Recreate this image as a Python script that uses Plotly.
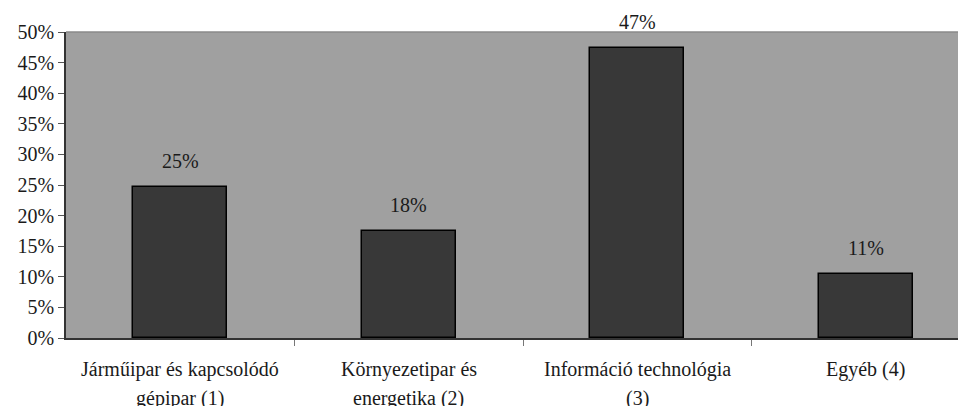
import plotly.graph_objects as go

categories = ["Járműipar és kapcsolódó<br>gépipar (1)",
              "Környezetipar és<br>energetika (2)",
              "Információ technológia<br>(3)",
              "Egyéb (4)"]
values = [24.6, 17.5, 47.4, 10.5]
value_labels = ["25%", "18%", "47%", "11%"]
ytick_vals = [0, 5, 10, 15, 20, 25, 30, 35, 40, 45, 50]
ytick_text = [f"{v}%" for v in ytick_vals]

FONT = "Liberation Serif, Times New Roman, serif"
TXT = "#1a1a1a"
FS = 20

fig = go.Figure()
fig.add_trace(go.Bar(
    x=list(range(len(categories))), y=values, width=0.41,
    marker=dict(color="#383838", line=dict(color="#000000", width=1.5)),
    hoverinfo="skip",
))

annotations = []
for i, (v, t) in enumerate(zip(values, value_labels)):
    annotations.append(dict(x=i, y=v, xref="x", yref="y", text=t, showarrow=False,
                            yanchor="middle", yshift=26,
                            font=dict(family=FONT, size=FS, color=TXT)))
for i, c in enumerate(categories):
    for j, line in enumerate(c.split("<br>")):
        annotations.append(dict(x=i, y=0, xref="x", yref="paper", text=line, showarrow=False,
                                yanchor="middle", yshift=-31 - 29 * j,
                                font=dict(family=FONT, size=FS, color=TXT)))

fig.update_layout(
    width=980, height=406,
    margin=dict(l=58, r=0, t=24, b=76),
    paper_bgcolor="white", plot_bgcolor="#a0a0a0",
    showlegend=False, bargap=0,
    annotations=annotations,
    shapes=[dict(type="line", xref="paper", yref="paper", x0=0, x1=1, y0=1, y1=1,
                 line=dict(color="#8a8a8a", width=1.5))],
    xaxis=dict(range=[-0.5, 3.535], tickmode="array",
               tickvals=[0.5, 1.5, 2.5], ticktext=["", "", ""],
               ticks="outside", ticklen=6, tickcolor="#777777",
               showgrid=False, zeroline=False, showline=True,
               linecolor="#333333", linewidth=1.5, fixedrange=True),
    yaxis=dict(range=[0, 50], tickmode="array", tickvals=ytick_vals, ticktext=ytick_text,
               ticks="outside", ticklen=6, tickcolor="#555555",
               tickfont=dict(family=FONT, size=FS, color=TXT),
               showgrid=False, zeroline=False, showline=True,
               linecolor="#333333", linewidth=1.5, fixedrange=True),
)

fig.write_html("out.html")
